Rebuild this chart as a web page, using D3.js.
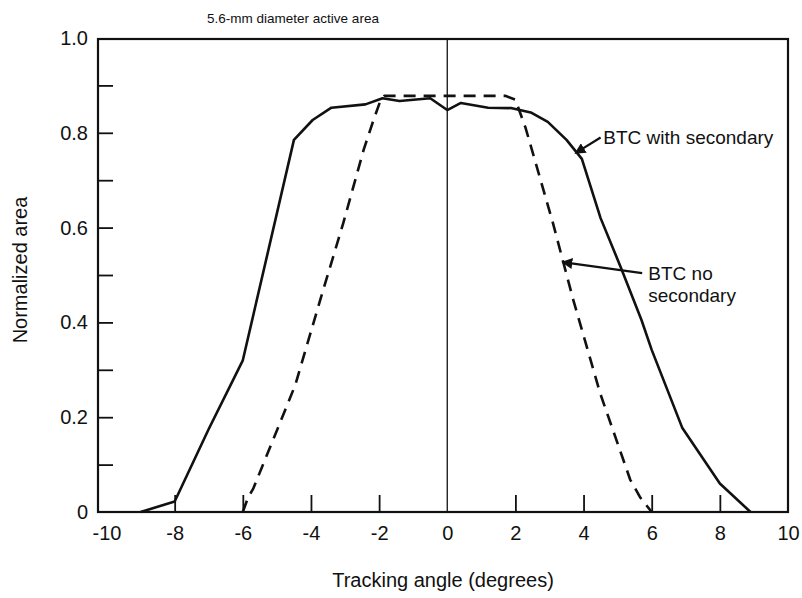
<!DOCTYPE html>
<html>
<head>
<meta charset="utf-8">
<script src="https://cdn.jsdelivr.net/npm/d3@7"></script>
<style>
  html, body { margin: 0; padding: 0; background: #fff; }
  svg text { font-family: "Liberation Sans", Arial, Helvetica, sans-serif; fill: #111; }
</style>
</head>
<body>
<svg id="chart" width="802" height="598"></svg>
<script>
// ---- data ----
const withSecondaryX = [-9, -8, -7, -6, -4.5, -3.95, -3.4, -2.4, -1.9, -1.4, -0.5, 0, 0.4, 1.2, 1.9, 2.45, 2.95, 3.5, 3.95, 4.5, 5.1, 5.7, 6, 6.9, 8, 8.9];
const withSecondaryY = [0, 0.022, 0.175, 0.32, 0.785, 0.827, 0.853, 0.86, 0.873, 0.867, 0.873, 0.848, 0.863, 0.853, 0.852, 0.843, 0.823, 0.785, 0.745, 0.62, 0.515, 0.405, 0.342, 0.177, 0.06, 0];

const noSecondaryX = [-6, -5.85, -5.69, -5.0, -4.46, -3.73, -3.05, -2.45, -2.15, -1.95, -1.85, -1.0, 0, 1.0, 1.7, 2.0, 2.3, 3.1, 3.7, 4.49, 5.37, 5.67, 6];
const noSecondaryY = [0, 0.03, 0.05, 0.172, 0.268, 0.447, 0.61, 0.765, 0.83, 0.87, 0.878, 0.878, 0.878, 0.878, 0.878, 0.87, 0.81, 0.61, 0.447, 0.25, 0.068, 0.03, 0];

const xTickValues = [-10, -8, -6, -4, -2, 0, 2, 4, 6, 8, 10];
const xTickLabels = ["-10", "-8", "-6", "-4", "-2", "0", "2", "4", "6", "8", "10"];
const xTickMarks = [-8, -6, -4, -2, 2, 4, 6, 8];
const yTickValues = [0, 0.2, 0.4, 0.6, 0.8, 1.0];
const yTickLabels = ["0", "0.2", "0.4", "0.6", "0.8", "1.0"];
const yTickMarks = [0.1, 0.2, 0.3, 0.4, 0.5, 0.6, 0.7, 0.8, 0.9];

const titleText = "5.6-mm diameter active area";
const xLabelText = "Tracking angle (degrees)";
const yLabelText = "Normalized area";

// ---- layout ----
const svg = d3.select("#chart");
const plotLeft = 98, plotRight = 788, plotTop = 38, plotBottom = 512;
const x = d3.scaleLinear().domain([-10.25, 10]).range([plotLeft, plotRight]);
const y = d3.scaleLinear().domain([0, 1]).range([plotBottom, plotTop]);

// frame
svg.append("rect")
  .attr("x", plotLeft).attr("y", y(1) + 1)
  .attr("width", plotRight - plotLeft).attr("height", y(0) - y(1) - 1)
  .attr("fill", "none").attr("stroke", "#111").attr("stroke-width", 2.2);

// vertical zero line
svg.append("line")
  .attr("x1", x(0)).attr("x2", x(0)).attr("y1", y(1)).attr("y2", y(0))
  .attr("stroke", "#111").attr("stroke-width", 1.3);

// x tick marks (inward)
const xMarks = svg.append("g").attr("transform", `translate(0,${y(0)})`)
  .call(d3.axisBottom(x).tickValues(xTickMarks).tickSize(-17).tickFormat(""));
xMarks.select(".domain").remove();
xMarks.selectAll(".tick line").attr("stroke", "#111").attr("stroke-width", 1.8);

// x tick labels
const xLab = svg.append("g").attr("transform", `translate(0,${y(0)})`)
  .call(d3.axisBottom(x).tickValues(xTickValues).tickSize(0).tickPadding(14)
    .tickFormat((d, i) => xTickLabels[i]));
xLab.select(".domain").remove();
xLab.selectAll("text").attr("font-size", 20).style("font-family", '"Liberation Sans", Arial, sans-serif').attr("fill", "#111");

// y tick marks (inward)
const yMarks = svg.append("g").attr("transform", `translate(${plotLeft},0)`)
  .call(d3.axisLeft(y).tickValues(yTickMarks).tickSize(-15).tickFormat(""));
yMarks.select(".domain").remove();
yMarks.selectAll(".tick line").attr("stroke", "#111").attr("stroke-width", 1.8);

// y tick labels
const yLab = svg.append("g").attr("transform", `translate(${plotLeft},0)`)
  .call(d3.axisLeft(y).tickValues(yTickValues).tickSize(0).tickPadding(10)
    .tickFormat((d, i) => yTickLabels[i]));
yLab.select(".domain").remove();
yLab.selectAll("text").attr("font-size", 20).style("font-family", '"Liberation Sans", Arial, sans-serif').attr("fill", "#111");

// curves
const line = d3.line().x(d => x(d[0])).y(d => y(d[1]));
const solidData = withSecondaryX.map((v, i) => [v, withSecondaryY[i]]);
const dashedData = noSecondaryX.map((v, i) => [v, noSecondaryY[i]]);

svg.append("path").datum(dashedData).attr("d", line)
  .attr("fill", "none").attr("stroke", "#111").attr("stroke-width", 2.6)
  .attr("stroke-dasharray", "12,8").attr("stroke-linejoin", "round");

svg.append("path").datum(solidData).attr("d", line)
  .attr("fill", "none").attr("stroke", "#111").attr("stroke-width", 2.6)
  .attr("stroke-linejoin", "round");

// arrow marker
svg.append("defs").append("marker")
  .attr("id", "arrow").attr("viewBox", "0 0 10 10")
  .attr("refX", 9).attr("refY", 5)
  .attr("markerWidth", 5).attr("markerHeight", 5)
  .attr("markerUnits", "strokeWidth")
  .attr("orient", "auto")
  .append("path").attr("d", "M0,0 L10,5 L0,10 z").attr("fill", "#111");

// annotations
svg.append("line")
  .attr("x1", x(4.5)).attr("y1", y(0.79))
  .attr("x2", x(3.76)).attr("y2", y(0.757))
  .attr("stroke", "#111").attr("stroke-width", 2.2).attr("marker-end", "url(#arrow)");
svg.append("text").attr("x", x(4.58)).attr("y", y(0.776))
  .attr("font-size", 19).text("BTC with secondary");

svg.append("line")
  .attr("x1", x(5.72)).attr("y1", y(0.504))
  .attr("x2", x(3.38)).attr("y2", y(0.527))
  .attr("stroke", "#111").attr("stroke-width", 2.2).attr("marker-end", "url(#arrow)");
svg.append("text").attr("x", x(5.9)).attr("y", y(0.49))
  .attr("font-size", 19).text("BTC no");
svg.append("text").attr("x", x(5.9)).attr("y", y(0.443))
  .attr("font-size", 19).text("secondary");

// title & axis labels
svg.append("text").attr("x", 293).attr("y", 23).attr("text-anchor", "middle")
  .attr("font-size", 13.5).text(titleText);
svg.append("text").attr("x", 443).attr("y", 587).attr("text-anchor", "middle")
  .attr("font-size", 20).text(xLabelText);
svg.append("text").attr("transform", `translate(27,${(plotTop + plotBottom) / 2 - 5}) rotate(-90)`)
  .attr("text-anchor", "middle").attr("font-size", 20).text(yLabelText);
</script>
</body>
</html>
